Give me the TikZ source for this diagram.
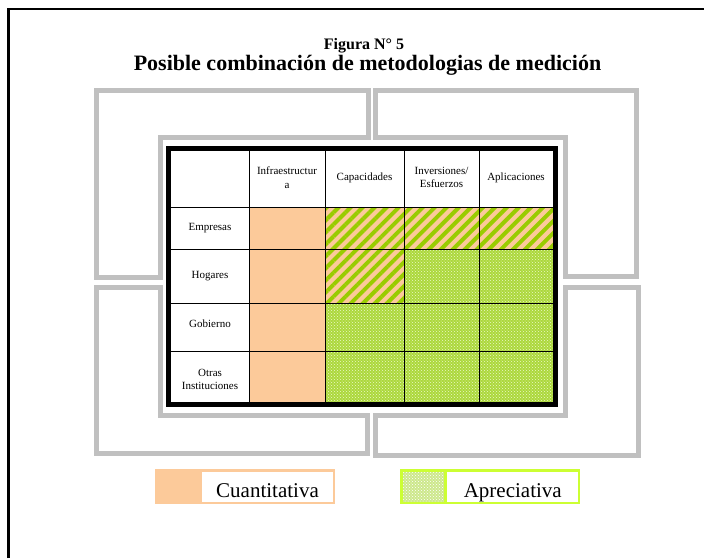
\documentclass[tikz,border=0pt]{standalone}
\usepackage{fontspec}
\setmainfont{Liberation Serif}
\usetikzlibrary{patterns,patterns.meta}
\definecolor{peach}{RGB}{252,202,154}
\definecolor{frameg}{RGB}{192,192,192}
\definecolor{stripeg}{RGB}{153,204,0}
\definecolor{texg}{RGB}{172,216,60}
\definecolor{texlight}{RGB}{236,248,200}
\definecolor{legg}{RGB}{204,255,51}
\definecolor{swatchg}{RGB}{205,232,140}
\begin{document}
\begin{tikzpicture}[x=1pt,y=-1pt,
  lframe/.style={draw=frameg,line width=5pt,miter limit=10},
  gridline/.style={draw=black,line width=0.9pt},
  cellstripe/.style={fill=peach,postaction={pattern={Lines[angle=45,distance=8.5pt,line width=4pt]},pattern color=stripeg}},
  celltex/.style={fill=texg,postaction={pattern=crosshatch dots,pattern color=texlight}},
  lab/.style={font=\fontsize{11}{13.5}\selectfont,align=center,inner sep=0pt},
  legtext/.style={font=\fontsize{21}{25}\selectfont,inner sep=0pt,anchor=base}]
\useasboundingbox (0,0) rectangle (704,558);
% outer black frame (partly cut off)
\draw[line width=2.5pt] (8.7,558) -- (8.7,9.2) -- (704,9.2);
% titles
\node[font=\fontsize{16}{19}\selectfont\bfseries,anchor=base,inner sep=0pt] (fig) at (364,49.3) {Figura N° 5};
\node[font=\fontsize{22}{26}\selectfont\bfseries,anchor=base,inner sep=0pt] (title) at (367.5,70) {Posible combinación de metodologias de medición};
% grey L frames
\draw[lframe] (96,90) -- (368,90) -- (368,137) -- (160,137) -- (160,277) -- (96,277) -- cycle;
\draw[lframe] (375.5,90) -- (636.5,90) -- (636.5,276.5) -- (565.5,276.5) -- (565.5,137) -- (375.5,137) -- cycle;
\draw[lframe] (96,287.5) -- (160,287.5) -- (160,415) -- (367.5,415) -- (367.5,453.5) -- (96,453.5) -- cycle;
\draw[lframe] (565.5,287) -- (638,287) -- (638,455) -- (375,455) -- (375,415.5) -- (565.5,415.5) -- cycle;
% table background
\fill[white] (168.5,148.5) rectangle (555.5,404.5);
% cell fills
\fill[peach] (249,207) rectangle (325,402);
\path[cellstripe] (325,207) rectangle (553,249);
\path[cellstripe] (325,249) rectangle (404,303);
\path[celltex] (404,249) rectangle (553,303);
\path[celltex] (325,303) rectangle (553,402);
% grid
\foreach \gx in {249,325,404,479} \draw[gridline] (\gx,151) -- (\gx,402);
\foreach \gy in {207,249,303,351} \draw[gridline] (171,\gy) -- (553,\gy);
\draw[line width=5pt] (168.5,148.5) rectangle (555.5,404.5);
% header labels
\node[lab] (h1) at (287,177.5) {Infraestructur\\a};
\node[lab] (h2) at (364.5,177.5) {Capacidades};
\node[lab] (h3) at (441.5,177.5) {Inversiones/\\Esfuerzos};
\node[lab] (h4) at (516,177.5) {Aplicaciones};
% row labels
\node[lab] (r1) at (210,228) {Empresas};
\node[lab] (r2) at (210,276.5) {Hogares};
\node[lab] (r3) at (210,323.5) {Gobierno};
\node[lab] (r4) at (210,379.5) {Otras\\Instituciones};
% legend
\fill[peach] (155,469.3) rectangle (202,504);
\draw[peach,line width=2.3pt] (156.2,470.5) rectangle (333.8,503);
\node[legtext] (cuant) at (267.5,497) {Cuantitativa};
\fill[swatchg] (403,472) rectangle (444.5,502);
\path[pattern=crosshatch dots,pattern color=white] (403,472) rectangle (444.5,502);
\draw[legg,line width=2.3pt] (401.5,470.5) rectangle (579,503);
\draw[legg,line width=2.3pt] (445.5,470.5) -- (445.5,503);
\node[legtext] (apre) at (512.8,497) {Apreciativa};
\end{tikzpicture}
\end{document}
